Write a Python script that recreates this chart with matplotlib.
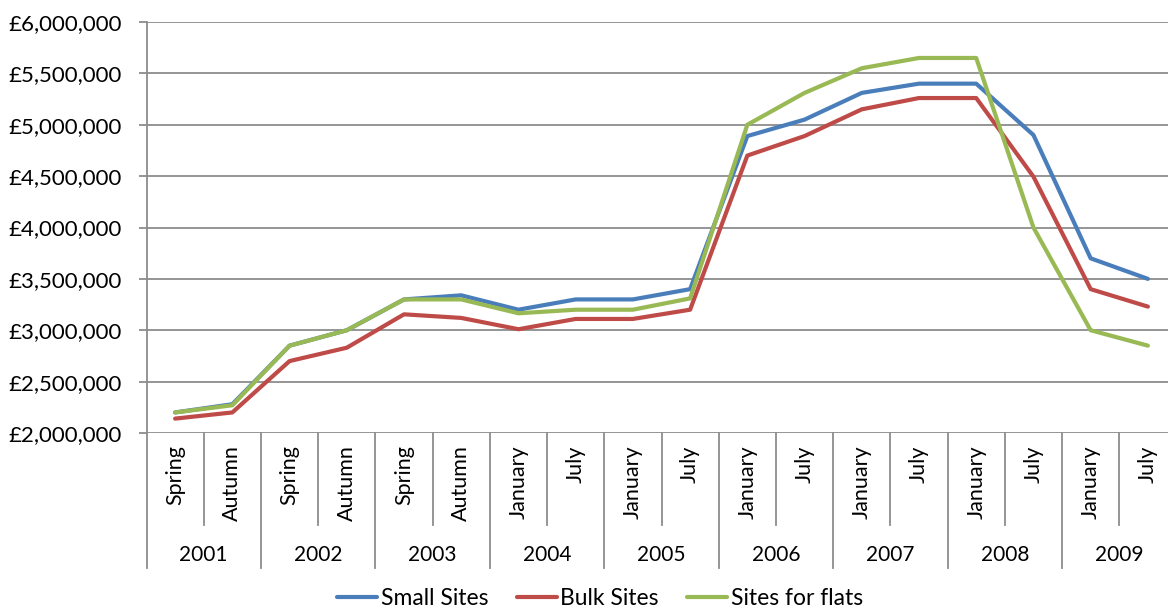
import numpy as np
import matplotlib.pyplot as plt
import matplotlib.transforms as mtransforms
from matplotlib.ticker import FuncFormatter

plt.rcParams['font.family'] = ['Lato', 'DejaVu Sans']

# Survey periods: two per year
years = ['2001', '2002', '2003', '2004', '2005', '2006', '2007', '2008', '2009']
periods = ['Spring', 'Autumn', 'Spring', 'Autumn', 'Spring', 'Autumn',
           'January', 'July', 'January', 'July', 'January', 'July',
           'January', 'July', 'January', 'July', 'January', 'July']

# Average land values (£ per hectare)
small_sites = [2200000, 2280000, 2850000, 3000000, 3300000, 3340000,
               3200000, 3300000, 3300000, 3400000, 4890000, 5050000,
               5310000, 5400000, 5400000, 4900000, 3700000, 3500000]
bulk_sites = [2140000, 2200000, 2700000, 2830000, 3155000, 3120000,
              3010000, 3110000, 3110000, 3200000, 4700000, 4890000,
              5150000, 5260000, 5260000, 4495000, 3400000, 3230000]
flat_sites = [2200000, 2270000, 2850000, 3000000, 3300000, 3300000,
              3165000, 3200000, 3200000, 3310000, 5000000, 5310000,
              5550000, 5650000, 5650000, 4000000, 3000000, 2850000]

series = [('Small Sites', small_sites, '#4a7ebb'),
          ('Bulk Sites', bulk_sites, '#be4b48'),
          ('Sites for flats', flat_sites, '#98b954')]

grid_col = '#8c8c8c'

fig = plt.figure(figsize=(11.68, 6.12), dpi=100)
# plot area runs slightly past the right edge of the canvas
ax = fig.add_axes([146.5 / 1168, 1 - 433 / 612, 1030 / 1168, 411 / 612])

x = np.arange(len(periods))
for name, vals, col in series:
    ax.plot(x, vals, color=col, lw=3.0, label=name, solid_joinstyle='round',
            solid_capstyle='round', clip_on=False, zorder=3)

ax.set_xlim(-0.5, len(periods) - 0.5)
ax.set_ylim(2000000, 6000000)
ax.set_yticks(np.arange(2000000, 6000001, 500000))
ax.yaxis.set_major_formatter(FuncFormatter(lambda v, p: '£{:,.0f}'.format(v)))
ax.yaxis.grid(True, color=grid_col, lw=1.3)
ax.set_axisbelow(True)
ax.tick_params(axis='y', length=6, width=1.3, color=grid_col, labelsize=16, pad=11.5)
ax.set_xticks([])
for s in ['top', 'right', 'bottom']:
    ax.spines[s].set_visible(False)
ax.spines['left'].set_color(grid_col)
ax.spines['left'].set_linewidth(1.3)

# two-level category axis
trans = mtransforms.blended_transform_factory(ax.transData, ax.transAxes)
for i, p in enumerate(periods):
    ax.text(i, -0.03, p, rotation=90, ha='center', va='top', fontsize=15.5,
            transform=trans, clip_on=False)
for i in range(len(periods) + 1):
    b = i - 0.5
    low = -0.328 if i % 2 == 0 else -0.224
    ax.plot([b, b], [0, low], color=grid_col, lw=1.3, transform=trans, clip_on=False)
for k, yr in enumerate(years):
    ax.text(2 * k + 0.5, -0.298, yr, ha='center', va='center', fontsize=15,
            transform=trans, clip_on=False)

fig.legend(loc='center', bbox_to_anchor=(600 / 1168, 0.022), ncol=3, frameon=False,
           fontsize=16.5, handlelength=1.75, handletextpad=0.15, columnspacing=1.25)

fig.savefig('out.png', dpi=100)
